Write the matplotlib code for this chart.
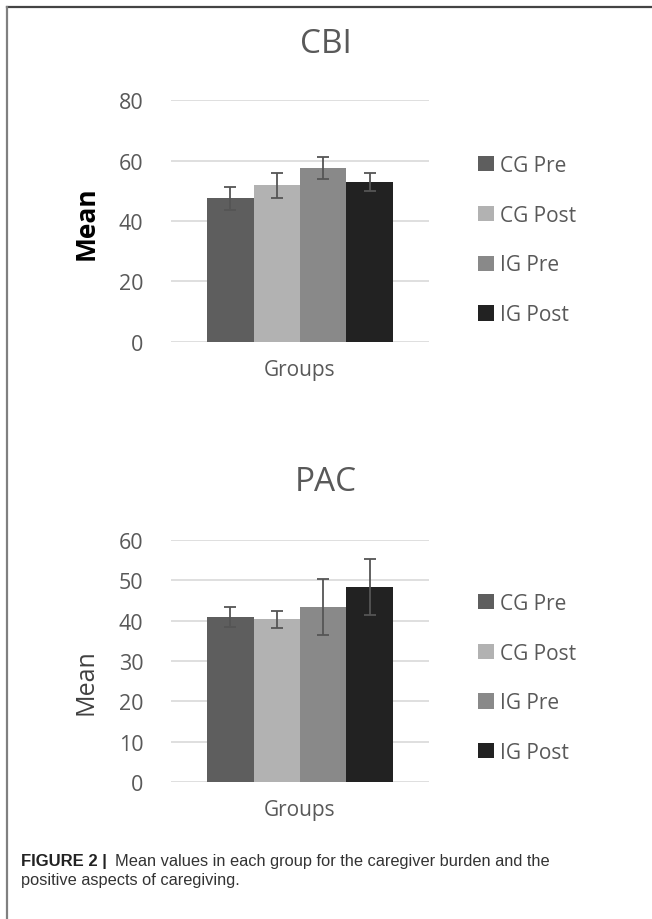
import numpy as np
import matplotlib
matplotlib.use('Agg')
import matplotlib.pyplot as plt
from matplotlib.lines import Line2D

plt.rcParams['font.family'] = ['Open Sans', 'DejaVu Sans']

# Data
groups = ['CG Pre', 'CG Post', 'IG Pre', 'IG Post']
colors = ['#5e5e5e', '#b2b2b2', '#898989', '#222222']

cbi_mean = [47.6, 51.8, 57.4, 52.8]
cbi_err = [3.8, 4.1, 3.6, 3.0]

pac_mean = [40.9, 40.3, 43.4, 48.3]
pac_err = [2.4, 2.1, 6.9, 6.9]

tick_col = '#595959'
grid_col = '#d9d9d9'
w = 0.18

fig = plt.figure(figsize=(6.52, 9.2), dpi=100)


def panel(rect, means, errs, ymax, step, title, title_y, leg_y, mean_y, mean_bold):
    ax = fig.add_axes(rect)
    x = (np.arange(len(groups)) - 1.5) * w
    for i in range(len(groups)):
        ax.bar(x[i], means[i], width=w, color=colors[i], label=groups[i], zorder=2)
        ax.errorbar(x[i], means[i], yerr=errs[i], color='#555555', lw=1.3,
                    capsize=4, capthick=1.3, zorder=3)
    ax.set_xlim(-0.5, 0.5)
    ax.set_ylim(0, ymax)
    ax.set_yticks(np.arange(0, ymax + 1, step))
    ax.set_xticks([])
    ax.grid(axis='y', color=grid_col, lw=1.2, zorder=0)
    for s in ax.spines.values():
        s.set_visible(False)
    ax.tick_params(axis='y', length=0, pad=20, labelsize=15.5, labelcolor=tick_col)
    ax.set_xlabel('Groups', fontsize=15, color=tick_col, labelpad=12)
    fig.text(0.5, title_y, title, ha='center', va='center', fontsize=24, color='#595959')
    if mean_bold:
        fig.text(0.132, mean_y, 'Mean', rotation=90, ha='center', va='center',
                 fontsize=19, fontweight='bold', color='black')
    else:
        fig.text(0.132, mean_y, 'Mean', rotation=90, ha='center', va='center',
                 fontsize=18, color='#404040')
    h, l = ax.get_legend_handles_labels()
    fig.legend(h, l, loc='center left', bbox_to_anchor=(0.733, leg_y),
               frameon=False, fontsize=15, labelcolor=tick_col,
               handlelength=0.75, handleheight=0.75, handletextpad=0.3,
               labelspacing=1.38, borderpad=0, borderaxespad=0)
    return ax


panel([0.2623, 0.6272, 0.3957, 0.2630], cbi_mean, cbi_err, 80, 20,
      'CBI', 0.952, 0.738, 0.757, True)
panel([0.2623, 0.1486, 0.3957, 0.2637], pac_mean, pac_err, 60, 10,
      'PAC', 0.475, 0.262, 0.259, False)

# frame lines (top and left)
fig.add_artist(Line2D([0.011, 1.0], [0.991, 0.991], transform=fig.transFigure,
                      color='#444444', lw=1.6))
fig.add_artist(Line2D([0.0115, 0.0115], [0.0, 0.991], transform=fig.transFigure,
                      color='#808080', lw=1.6))

# caption
cap_font = ['Liberation Sans', 'DejaVu Sans']
fig.text(0.032, 0.064, 'FIGURE 2 |', fontsize=12, fontweight='bold',
         color='#222222', family=cap_font, va='center')
fig.text(0.176, 0.064, 'Mean values in each group for the caregiver burden and the',
         fontsize=11.8, color='#333333', family=cap_font, va='center')
fig.text(0.032, 0.043, 'positive aspects of caregiving.',
         fontsize=11.8, color='#333333', family=cap_font, va='center')

fig.savefig('out.png', dpi=100)
